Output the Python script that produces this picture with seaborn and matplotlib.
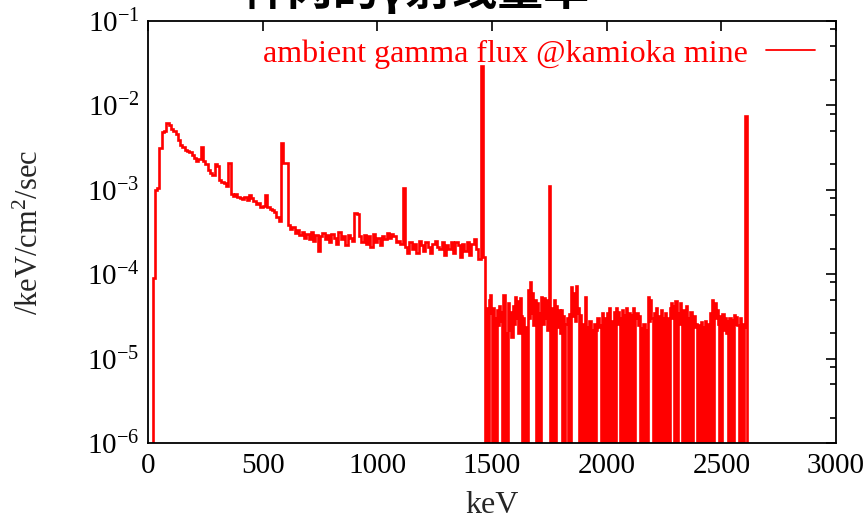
import numpy as np
import pandas as pd
import matplotlib
matplotlib.use("Agg")
import matplotlib.pyplot as plt
import matplotlib.ticker as mticker
import seaborn as sns

# ---------------- data ----------------
# below the K-40 edge: 10 keV bins starting at 0 keV
low_start_kev, low_bin_kev = 0, 10
flux_low = [
    0, 0, 9e-5, 1.0e-3, 1.05e-3,
    3.1e-3, 4.9e-3, 5.0e-3, 6.2e-3, 5.8e-3,
    5.3e-3, 5.0e-3, 4.6e-3, 3.9e-3, 3.4e-3,
    3.2e-3, 3.0e-3, 2.9e-3, 2.8e-3, 2.6e-3,
    2.4e-3, 2.2e-3, 2.3e-3, 3.2e-3, 2.2e-3,
    2.0e-3, 1.7e-3, 1.6e-3, 1.5e-3, 2.0e-3,
    1.9e-3, 1.3e-3, 1.25e-3, 1.2e-3, 1.1e-3,
    2.1e-3, 9.0e-4, 8.5e-4, 9.0e-4, 8.2e-4,
    8.0e-4, 7.8e-4, 8.3e-4, 7.6e-4, 8.6e-4,
    8.0e-4, 7.4e-4, 6.8e-4, 7.0e-4, 6.2e-4,
    6.4e-4, 8.6e-4, 6.3e-4, 6.0e-4, 5.8e-4,
    5.4e-4, 4.8e-4, 4.3e-4, 3.6e-3, 2.1e-3,
    2.1e-3, 3.8e-4, 3.4e-4, 3.6e-4, 3.1e-4,
    3.3e-4, 2.9e-4, 3.2e-4, 2.7e-4, 3.0e-4,
    2.6e-4, 3.2e-4, 2.5e-4, 2.9e-4, 1.9e-4,
    2.8e-4, 3.1e-4, 2.6e-4, 2.9e-4, 2.4e-4,
    3.0e-4, 2.7e-4, 2.3e-4, 3.2e-4, 2.6e-4,
    2.8e-4, 2.2e-4, 2.9e-4, 2.7e-4, 2.5e-4,
    5.3e-4, 5.2e-4, 2.8e-4, 2.4e-4, 2.9e-4,
    2.3e-4, 2.8e-4, 2.1e-4, 3.0e-4, 2.4e-4,
    2.7e-4, 2.2e-4, 2.8e-4, 2.6e-4, 3.1e-4,
    2.7e-4, 3.0e-4, 2.8e-4, 2.4e-4, 2.5e-4,
    2.3e-4, 1.05e-3, 2.1e-4, 1.8e-4, 2.4e-4,
    2.0e-4, 2.3e-4, 1.8e-4, 2.5e-4, 2.2e-4,
    1.9e-4, 2.4e-4, 2.1e-4, 1.8e-4, 2.3e-4,
    2.5e-4, 2.1e-4, 2.0e-4, 2.4e-4, 1.7e-4,
    2.2e-4, 2.0e-4, 2.4e-4, 1.8e-4, 2.4e-4,
    2.2e-4, 1.6e-4, 2.3e-4, 1.9e-4, 2.4e-4,
    1.7e-4, 2.3e-4, 2.6e-4, 2.0e-4, 1.5e-4,
    2.9e-2, 1.6e-4,
]
# above the K-40 edge: 5 keV bins starting at 1470 keV (0 = empty bin)
high_start_kev, high_bin_kev = 1470, 5
flux_high = [
    0, 4.0e-5, 0, 5.0e-5, 5.6e-5, 3.5e-5, 0, 4.0e-5, 3.0e-5, 0,
    3.8e-5, 2.5e-5, 4.2e-5, 2.8e-5, 3.6e-5, 0, 5.6e-5, 0, 2.0e-5, 0,
    4.5e-5, 2.2e-5, 3.6e-5, 1.8e-5, 4.2e-5, 2.6e-5, 5.4e-5, 3.0e-5, 4.8e-5, 2.0e-5,
    5.2e-5, 3.2e-5, 0, 3.0e-5, 0, 2.4e-5, 0, 6.5e-5, 3.0e-5, 8.0e-5,
    3.5e-5, 6.0e-5, 2.5e-5, 5.0e-5, 0, 4.5e-5, 0, 3.5e-5, 0, 5.4e-5,
    2.6e-5, 5.2e-5, 3.0e-5, 5.0e-5, 2.2e-5, 2.8e-5, 1.1e-3, 0, 4.0e-5, 0,
    5.0e-5, 0, 4.2e-5, 2.4e-5, 3.8e-5, 2.0e-5, 3.8e-5, 0, 3.2e-5, 0,
    2.6e-5, 3.0e-5, 0, 3.4e-5, 0, 7.0e-5, 3.2e-5, 6.0e-5, 2.8e-5, 7.3e-5,
    3.5e-5, 4.0e-5,
    0, 3.3e-5, 0, 2.6e-5, 0, 5.4e-5, 0, 2.4e-5, 0, 2.8e-5,
    0, 2.2e-5, 0, 2.6e-5, 0, 2.2e-5, 3.0e-5, 2.4e-5, 2.5e-5, 0,
    3.5e-5, 0, 3.0e-5, 0, 3.5e-5, 0, 4.0e-5, 0, 2.8e-5, 0,
    3.6e-5, 0, 4.0e-5, 2.6e-5, 3.6e-5, 3.0e-5, 0, 3.8e-5, 0, 3.3e-5,
    0, 4.0e-5, 0, 3.5e-5, 0, 3.3e-5, 0, 4.0e-5, 0, 3.0e-5,
    3.5e-5, 2.5e-5, 3.2e-5, 0, 2.3e-5, 0, 2.6e-5, 0, 2.2e-5, 0,
    5.4e-5, 2.8e-5, 5.0e-5, 3.0e-5, 0, 3.5e-5, 0, 4.0e-5, 0, 3.2e-5,
    0, 3.8e-5, 0, 3.0e-5, 0, 3.5e-5, 0, 3.0e-5, 0, 4.0e-5,
    4.5e-5, 3.0e-5, 4.2e-5, 0, 4.8e-5, 0, 3.5e-5, 2.6e-5, 4.5e-5, 3.4e-5,
    0, 3.8e-5, 0, 4.2e-5, 0, 3.0e-5, 0, 3.6e-5, 0, 2.8e-5,
    3.2e-5, 2.4e-5, 2.6e-5, 0, 2.5e-5, 0, 2.7e-5, 0, 2.4e-5, 0,
    2.8e-5, 0, 2.6e-5, 0, 3.5e-5, 0, 5.0e-5, 0, 4.6e-5, 3.0e-5,
    3.8e-5, 2.6e-5, 0, 3.2e-5, 0, 3.4e-5, 2.2e-5, 3.0e-5, 2.0e-5, 2.8e-5,
    0, 3.0e-5, 0, 2.9e-5, 0, 3.3e-5, 2.6e-5, 3.1e-5, 2.5e-5, 0,
    3.0e-5, 0, 2.6e-5, 0, 2.4e-5, 7.5e-3, 0,
]
series_label = "ambient gamma flux @kamioka mine"
x_label = "keV"
y_label = "/keV/cm$^{2}$/sec"
title_text = "神冈的γ射线量率"
x_ticks = [0, 500, 1000, 1500, 2000, 2500, 3000]
y_min, y_max = 1e-6, 1e-1

energy = np.concatenate([
    low_start_kev + np.arange(len(flux_low)) * low_bin_kev,
    high_start_kev + np.arange(len(flux_high)) * high_bin_kev,
])
flux = np.array(flux_low + flux_high, dtype=float)
# empty bins are drawn just below the lower axis limit
flux_drawn = np.where(flux > 0, flux, y_min / 10)
df = pd.DataFrame({"energy": energy, "flux": flux_drawn})

# ---------------- style ----------------
sns.set_style("white")
plt.rcParams["font.family"] = ["Liberation Serif", "DejaVu Serif"]
plt.rcParams["mathtext.fontset"] = "custom"
plt.rcParams["mathtext.rm"] = "Liberation Serif"
plt.rcParams["mathtext.it"] = "Liberation Serif:italic"
plt.rcParams["mathtext.bf"] = "Liberation Serif:bold"
plt.rcParams["mathtext.default"] = "regular"
plt.rcParams["axes.unicode_minus"] = True
plt.rcParams["path.simplify"] = False

fig = plt.figure(figsize=(8.65, 5.21), dpi=100)
ax = fig.add_axes([148 / 865, 78 / 521, 688 / 865, 422 / 521])

sns.lineplot(data=df, x="energy", y="flux", ax=ax, color="#ff0000",
             linewidth=1.9, drawstyle="steps-post", estimator=None,
             label=series_label, solid_joinstyle="miter")

ax.set_yscale("log")
ax.set_ylim(y_min, y_max)
ax.set_xlim(0, 3000)
ax.set_xticks(x_ticks)
ax.xaxis.set_minor_locator(mticker.NullLocator())
ax.yaxis.set_major_locator(mticker.LogLocator(base=10, numticks=10))
ax.yaxis.set_minor_locator(mticker.LogLocator(base=10, subs=[2, 5, 8], numticks=20))
ax.yaxis.set_minor_formatter(mticker.NullFormatter())

for s in ax.spines.values():
    s.set_color("black")
    s.set_linewidth(1.3)
    s.set_zorder(5)

ax.tick_params(axis="both", which="both", direction="in", top=True, right=True,
               colors="black", width=1.2)
ax.tick_params(axis="both", which="major", length=7, labelsize=21)
ax.tick_params(axis="y", which="minor", length=4.5)
ax.tick_params(axis="x", which="major", pad=7)
ax.tick_params(axis="y", which="major", pad=6)

ax.set_xlabel(x_label, fontsize=23, labelpad=9)
ax.set_ylabel(y_label, fontsize=22, labelpad=30)

leg = ax.legend(loc="upper right", bbox_to_anchor=(0.9695, 0.957),
                frameon=False, markerfirst=False, handlelength=1.55,
                handletextpad=0.55, borderpad=0, borderaxespad=0,
                labelcolor="#ff0000", prop={"family": "Liberation Serif", "size": 23})
for line in leg.get_lines():
    line.set_linewidth(1.3)

fig.text(415 / 865, 1 - 5 / 521, title_text, fontsize=33, fontweight="bold",
         family=["Noto Sans CJK SC", "DejaVu Sans"], ha="center", va="baseline",
         color="black")

fig.savefig("out.png", dpi=100)
